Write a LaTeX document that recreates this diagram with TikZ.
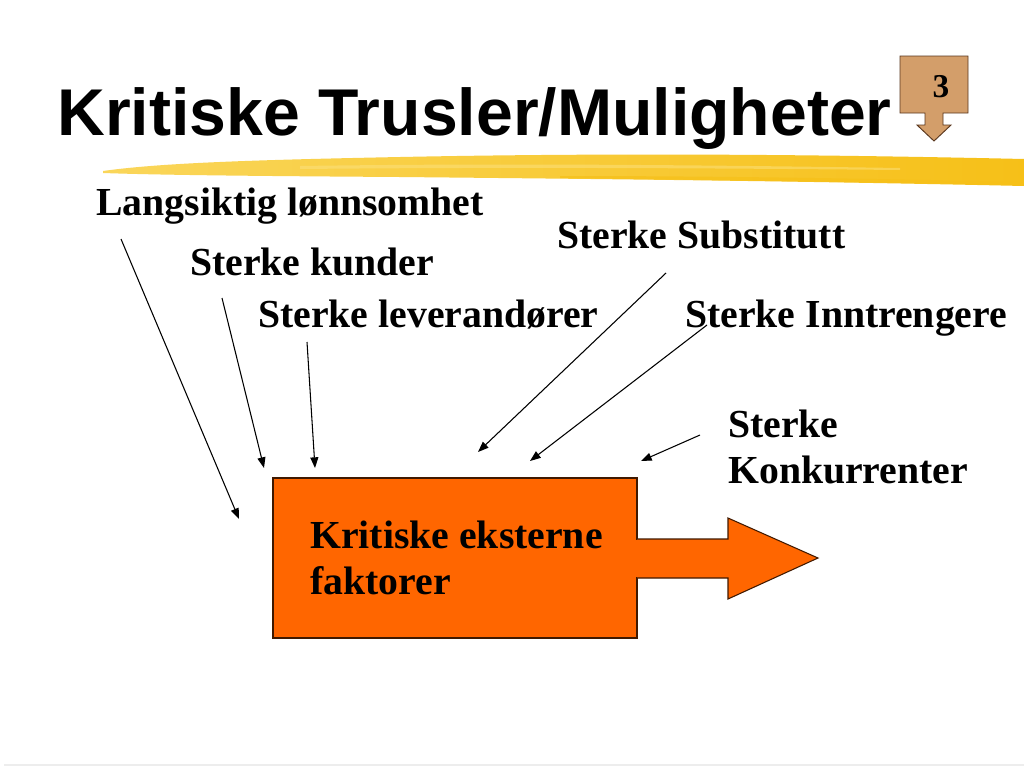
\documentclass[tikz,border=0pt]{standalone}
\usepackage{fontspec}
\setmainfont{Liberation Serif}
\newfontfamily\titlefont{Liberation Sans}
\usetikzlibrary{arrows.meta}
\definecolor{boxorange}{RGB}{255,102,0}
\definecolor{badgetan}{RGB}{211,158,106}
\definecolor{badgeedge}{RGB}{90,55,30}
\definecolor{hlA}{RGB}{250,214,90}
\definecolor{hlB}{RGB}{246,192,24}
\definecolor{hlC}{RGB}{252,226,130}
\tikzset{
  lbl/.style={anchor=base west,inner sep=0pt,font=\fontsize{29.8pt}{34.5pt}\selectfont\bfseries},
  pointer/.style={line width=0.8pt,-{Triangle[length=8pt,width=6pt]}},
}
\begin{document}
\begin{tikzpicture}[x=0.75pt,y=-0.75pt]
\useasboundingbox (0,0) rectangle (1024,768);
\fill[white] (0,0) rectangle (1024,768);
% faint bottom rule
\draw[black!7,line width=0.8pt] (4,765) -- (1024,765);
% highlighter stroke
\shade[left color=hlA,right color=hlB]
  (103,171) .. controls (160,163) and (250,160) .. (400,157)
  .. controls (600,153) and (800,154) .. (1024,159)
  -- (1024,186) .. controls (800,181) and (600,179) .. (400,177)
  .. controls (250,176) and (160,175) .. (103,173) -- cycle;
\fill[hlC,opacity=0.5] (300,166) .. controls (500,163) and (700,165) .. (900,168)
  -- (900,170) .. controls (700,168) and (500,167) .. (300,169) -- cycle;
\fill[hlB,opacity=0.7] (560,176) .. controls (700,176) and (850,178) .. (1024,182)
  -- (1024,185) .. controls (850,182) and (700,180) .. (560,178) -- cycle;
% title
\node[anchor=base west,inner sep=0pt,font=\titlefont\fontsize{49.6pt}{56pt}\selectfont\bfseries] (title) at (57,135) {Kritiske Trusler/Muligheter};
% badge
\draw[fill=badgetan,draw=badgeedge,line width=0.7pt]
  (900,56) -- (968,56) -- (968,113) -- (943,113) -- (943,125) -- (951,125)
  -- (934,141) -- (917,125) -- (925,125) -- (925,113) -- (900,113) -- cycle;
\node[anchor=base,inner sep=0pt,font=\fontsize{25pt}{28pt}\selectfont\bfseries] (badge) at (941,97) {3};
% labels
\node[lbl] (lang) at (96,215) {Langsiktig lønnsomhet};
\node[lbl] (kund) at (190,275) {Sterke kunder};
\node[lbl] (lev) at (258,327) {Sterke leverandører};
\node[lbl] (subst) at (557,248) {Sterke Substitutt};
\node[lbl] (inn) at (685,327) {Sterke Inntrengere};
\node[lbl] (konk1) at (728,437) {Sterke};
\node[lbl] (konk2) at (728,483) {Konkurrenter};
% box and arrow
\draw[fill=boxorange,draw=black!75!boxorange,line width=0.8pt]
  (273,478) rectangle (637,638);
\node[lbl] (box) at (310,548) {Kritiske eksterne};
\node[lbl] (box2) at (310,594) {faktorer};
\draw[fill=boxorange,draw=black!75!boxorange,line width=0.8pt]
  (637,539) -- (728,539) -- (728,518) -- (818,558) -- (728,599) -- (728,578) -- (637,578);
\fill[boxorange] (634,540) rectangle (638,577);
% pointer coordinates
\coordinate (s1) at (121,239); \coordinate (e1) at (239,519);
\coordinate (s2) at (222,298); \coordinate (e2) at (264,468);
\coordinate (s3) at (307,342); \coordinate (e3) at (315,468);
\coordinate (s4) at (666,273); \coordinate (e4) at (478,452);
\coordinate (s5) at (707,325); \coordinate (e5) at (530,461);
\coordinate (s6) at (700,435); \coordinate (e6) at (641,461);
\draw[pointer] (s1) -- (e1);
\draw[pointer] (s2) -- (e2);
\draw[pointer] (s3) -- (e3);
\draw[pointer] (s4) -- (e4);
\draw[pointer] (s5) -- (e5);
\draw[pointer] (s6) -- (e6);
\end{tikzpicture}
\end{document}
